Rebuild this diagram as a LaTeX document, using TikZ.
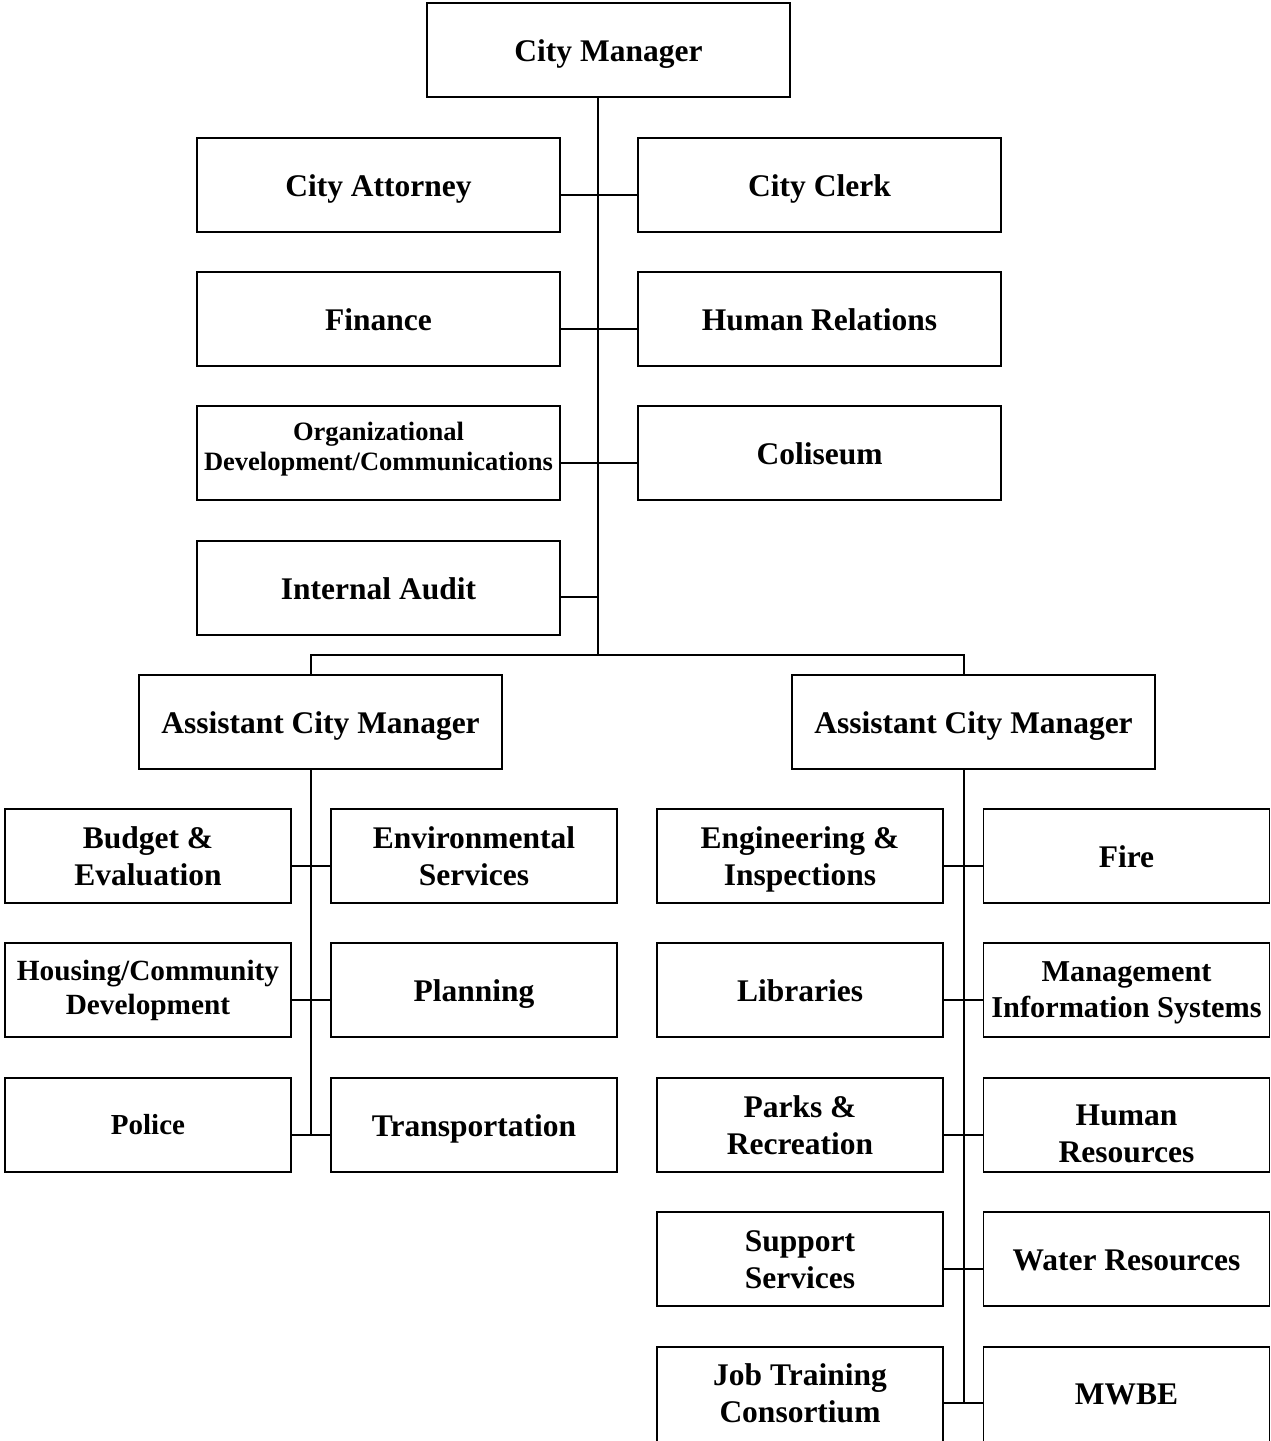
\documentclass[tikz,border=0pt]{standalone}
\usepackage{fontspec}
\setmainfont{Liberation Serif}
\newcommand\tsx[1]{\rule{0pt}{#1}}
\newcommand\bsx[1]{\rule[-#1]{0pt}{#1}}
\begin{document}
\begin{tikzpicture}[x=1pt,y=-1pt,
  box/.style={draw, line width=1.8pt, inner sep=0pt, align=center, font=\bfseries\fontsize{31.5}{37}\selectfont},
  wbox/.style={box, minimum width=363pt, minimum height=94pt},
  sbox/.style={box, minimum width=286pt, minimum height=94pt},
  one/.style={text height=30.5pt, text depth=7.5pt},
  conn/.style={line width=1.8pt}]
\useasboundingbox[fill=white] (0,0) rectangle (1271,1441);
% top level
\node[wbox, one] (cm) at (608.5,50) {City Manager};
\node[wbox, one] (att) at (378.5,185) {City Attorney};
\node[wbox, one] (clerk) at (819.5,185) {City Clerk};
\node[wbox, one] (fin) at (378.5,319) {Finance};
\node[wbox, one] (hr) at (819.5,319) {Human Relations};
\node[wbox, font=\bfseries\fontsize{26.5}{30}\selectfont] (org) at (378.5,453) {\tsx{18.5pt}Organizational\\Development/Communications\bsx{14pt}};
\node[wbox, one] (col) at (819.5,453) {Coliseum};
\node[wbox, one] (ia) at (378.5,588) {Internal Audit};
\node[wbox, one] (acml) at (320.5,722) {Assistant City Manager};
\node[wbox, one] (acmr) at (973.5,722) {Assistant City Manager};
% left group
\node[sbox] (bud) at (148,856) {\tsx{29pt}Budget \&\\Evaluation\bsx{7.5pt}};
\node[sbox] (env) at (474,856) {\tsx{29pt}Environmental\\Services\bsx{7.5pt}};
\node[sbox, font=\bfseries\fontsize{29.3}{34}\selectfont] (hous) at (148,990) {\tsx{22.4pt}Housing/Community\\Development\bsx{7pt}};
\node[sbox, one] (plan) at (474,990) {Planning};
\node[sbox, font=\bfseries\fontsize{29}{34}\selectfont, text height=21pt, text depth=1.8pt] (pol) at (148,1125) {Police};
\node[sbox, one] (trans) at (474,1125) {Transportation};
% right group
\node[sbox] (eng) at (800,856) {\tsx{29pt}Engineering \&\\Inspections\bsx{7.5pt}};
\node[sbox, one] (fire) at (1126.5,856) {Fire};
\node[sbox, one] (lib) at (800,990) {Libraries};
\node[sbox, font=\bfseries\fontsize{30.3}{36}\selectfont] (mis) at (1126.5,990) {\tsx{25pt}Management\\Information Systems\bsx{7pt}};
\node[sbox] (parks) at (800,1125) {\tsx{29pt}Parks \&\\Recreation\bsx{7.5pt}};
\node[sbox] (hres) at (1126.5,1125) {\tsx{38.5pt}Human\\Resources\bsx{0.5pt}};
\node[sbox] (sup) at (800,1259) {\tsx{29pt}Support\\Services\bsx{7.5pt}};
\node[sbox, one] (water) at (1126.5,1259) {Water Resources};
\node[sbox, minimum height=110pt] (job) at (800,1402) {\tsx{29pt}Job Training\\Consortium\bsx{25pt}};
\node[sbox, minimum height=110pt, text height=22pt, text depth=17pt] (mwbe) at (1126.5,1402) {MWBE};
% coordinates
\coordinate (bus) at (598,655);
\coordinate (busl) at (311,655);
\coordinate (busr) at (964,655);
% main trunk
\draw[conn] ([xshift=-10.5pt]cm.south) -- (bus);
\draw[conn] ([yshift=-10pt]att.east) -- ([yshift=-10pt]clerk.west);
\draw[conn] ([yshift=-10pt]fin.east) -- ([yshift=-10pt]hr.west);
\draw[conn] ([yshift=-10pt]org.east) -- ([yshift=-10pt]col.west);
\draw[conn] ([yshift=-9pt]ia.east) -- ([yshift=-9pt]ia.east -| bus);
\draw[conn] (acml.north -| busl) -- (busl) -- (busr) -- (acmr.north -| busr);
% left trunk
\draw[conn] (acml.south -| busl) -- ([yshift=-10pt]pol.east -| busl);
\draw[conn] ([yshift=-10pt]bud.east) -- ([yshift=-10pt]env.west);
\draw[conn] ([yshift=-10pt]hous.east) -- ([yshift=-10pt]plan.west);
\draw[conn] ([yshift=-10pt]pol.east) -- ([yshift=-10pt]trans.west);
% right trunk
\draw[conn] (acmr.south -| busr) -- ([yshift=-1pt]job.east -| busr);
\draw[conn] ([yshift=-10pt]eng.east) -- ([yshift=-10pt]fire.west);
\draw[conn] ([yshift=-10pt]lib.east) -- ([yshift=-10pt]mis.west);
\draw[conn] ([yshift=-10pt]parks.east) -- ([yshift=-10pt]hres.west);
\draw[conn] ([yshift=-10pt]sup.east) -- ([yshift=-10pt]water.west);
\draw[conn] ([yshift=-1pt]job.east) -- ([yshift=-1pt]mwbe.west);
\end{tikzpicture}
\end{document}
